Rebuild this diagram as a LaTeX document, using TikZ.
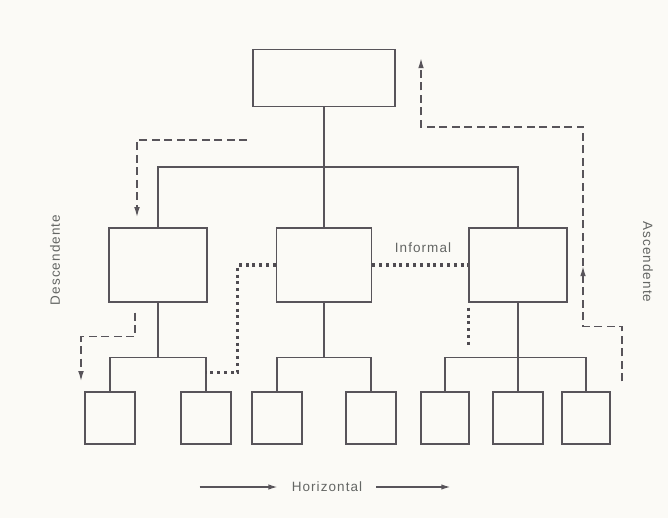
\documentclass[tikz,border=0pt]{standalone}
\usepackage{fontspec}
\newfontfamily\labelfont[LetterSpace=8]{Liberation Sans}
\usetikzlibrary{arrows.meta, positioning, calc}
\definecolor{inkgray}{RGB}{88, 84, 90}
\definecolor{textgray}{RGB}{100, 102, 100}
\definecolor{paper}{RGB}{251, 250, 246}
\tikzset{
  >=Latex,
  orgbox/.style={draw=inkgray, line width=1.4pt, inner sep=0pt},
  treeline/.style={draw=inkgray, line width=1.4pt},
  flowdash/.style={-{Latex[length=3.6mm, width=2mm]}, inkgray, line width=1.5pt, dash pattern=on 8pt off 4.5pt},
  flowdot/.style={inkgray!90!black, line width=3.2pt, dash pattern=on 3pt off 3.8pt},
  flowarrow/.style={-{Latex[length=3.2mm, width=1.9mm]}, inkgray, line width=1.4pt},
  flowlabel/.style={text=textgray, font=\labelfont\fontsize{13.5}{16}\selectfont, inner sep=0pt}
}

\begin{document}
\begin{tikzpicture}[x=1pt, y=-1pt]
    \fill[paper] (0,0) rectangle (668,518);
    \useasboundingbox (0,0) rectangle (668,518);

    % boxes
    \node (top) [orgbox, minimum width=142pt, minimum height=57pt] at (324,78) {};
    \node (lmid) [orgbox, minimum width=98pt, minimum height=74pt] at (158,265) {};
    \node (cmid) [orgbox, minimum width=95pt, minimum height=74pt] at (324,265) {};
    \node (rmid) [orgbox, minimum width=98pt, minimum height=74pt] at (518,265) {};
    \node (b1) [orgbox, minimum width=50pt, minimum height=52pt] at (110,418) {};
    \node (b2) [orgbox, minimum width=50pt, minimum height=52pt] at (206,418) {};
    \node (b3) [orgbox, minimum width=50pt, minimum height=52pt] at (277,418) {};
    \node (b4) [orgbox, minimum width=50pt, minimum height=52pt] at (371,418) {};
    \node (b5) [orgbox, minimum width=48pt, minimum height=52pt] at (445,418) {};
    \node (b6) [orgbox, minimum width=50pt, minimum height=52pt] at (518,418) {};
    \node (b7) [orgbox, minimum width=48pt, minimum height=52pt] at (586,418) {};

    % tree
    \coordinate (topbar) at (324,167);
    \draw[treeline] (top.south) -- (topbar);
    \draw[treeline] (lmid.north) |- (topbar) -| (rmid.north);
    \draw[treeline] (topbar) -- (cmid.north);
    \draw[treeline] (b1.north) -- ++(0,-34) -| (b2.north);
    \draw[treeline] (lmid.south) -- ($(b1.north)!0.5!(b2.north)+(0,-34)$);
    \draw[treeline] (b3.north) -- ++(0,-34) -| (b4.north);
    \draw[treeline] (cmid.south) -- ($(b3.north)!0.5!(b4.north)+(0,-34)$);
    \draw[treeline] (b5.north) -- ++(0,-34) -| (b7.north);
    \draw[treeline] (rmid.south) -- (b6.north);

    % descending
    \coordinate (dstart) at (247,140);
    \draw[flowdash] (dstart) -| ([xshift=-21pt,yshift=10pt]lmid.north);
    \draw[flowdash] ([xshift=-23pt,yshift=-10pt]lmid.south) -- ++(0,24) -| ([xshift=-29pt,yshift=10pt]b1.north);

    % ascending
    \coordinate (ascmid) at (583,266);
    \coordinate (ascend) at (421,58);
    \draw[flowdash] ([xshift=36pt,yshift=10pt]b7.north) -- ++(0,-55) -| (ascmid);
    \draw[flowdash] (ascmid) -- ++(0,-139) -| (ascend);

    % informal
    \draw[flowdot] (cmid.east) -- (rmid.west);
    \draw[flowdot] (cmid.west) -- ++(-38,0) |- ([yshift=19pt]b2.north);
    \draw[flowdot] ([yshift=-5pt]rmid.south west) -- ++(0,38);

    % labels
    \node (desc) [flowlabel, rotate=90] at (55,260) {Descendente};
    \node (asc) [flowlabel, rotate=-90] at (648,262) {Ascendente};
    \node (informal) [flowlabel] at (423,248) {Informal};
    \node (horiz) [flowlabel] at (327,487) {Horizontal};
    \draw[flowarrow] ([xshift=-92pt]horiz.west) -- ([xshift=-14pt]horiz.west);
    \draw[flowarrow] ([xshift=14pt]horiz.east) -- ([xshift=88pt]horiz.east);
\end{tikzpicture}
\end{document}
